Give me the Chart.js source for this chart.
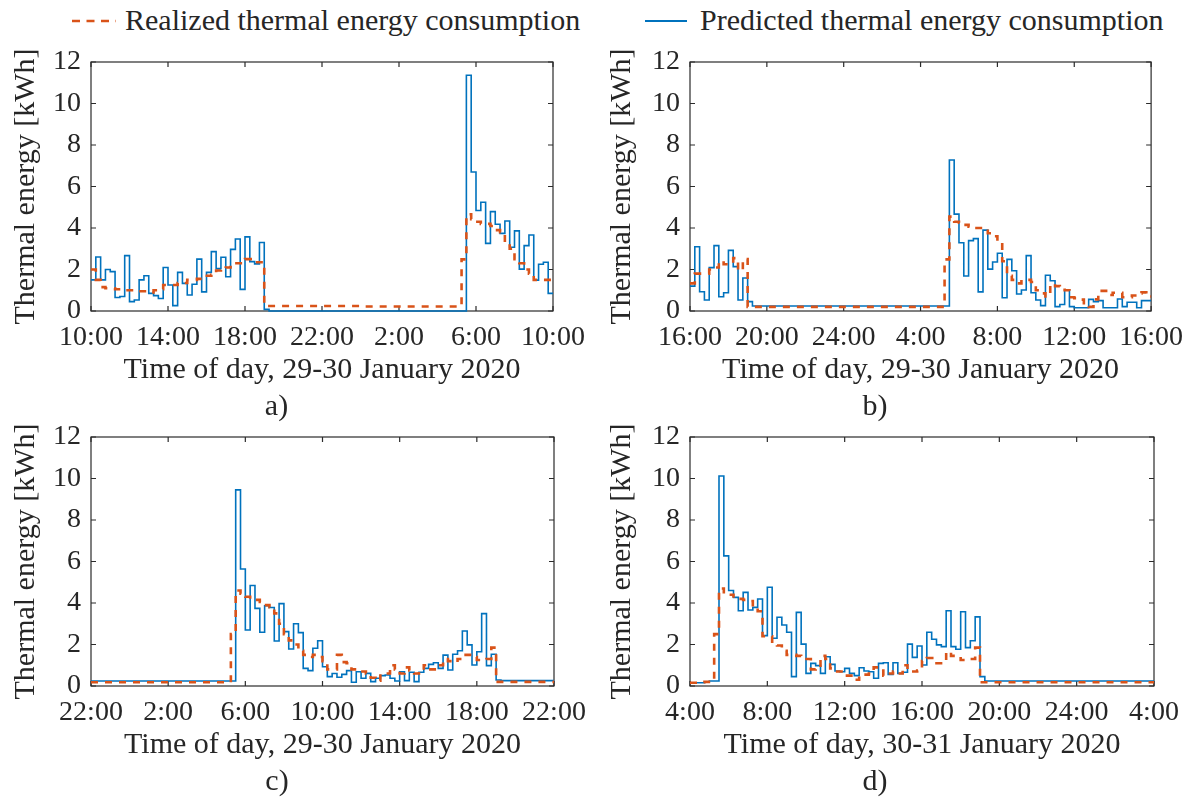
<!DOCTYPE html>
<html>
<head>
<meta charset="utf-8">
<script src="https://cdn.jsdelivr.net/npm/chart.js@4.4.1/dist/chart.umd.min.js"></script>
<style>
  html, body { margin: 0; padding: 0; background: #ffffff; }
  #page { position: relative; width: 1193px; height: 800px; overflow: hidden; background: #ffffff; }
  canvas { position: absolute; }
  .legtext { position: absolute; top: 0; height: 40px; line-height: 40px; font-family: 'Liberation Serif', serif; font-size: 30px; color: #262626; white-space: nowrap; }
  .legline { position: absolute; }
</style>
</head>
<body>
<div id="page">
  <svg class="legline" style="left:72px; top:18px" width="44" height="6"><line x1="0" y1="3" x2="44" y2="3" stroke="#D95319" stroke-width="2.6" stroke-dasharray="8 6.5"/></svg>
  <div class="legtext" style="left:125px">Realized thermal energy consumption</div>
  <svg class="legline" style="left:645px; top:18px" width="42" height="6"><line x1="0" y1="3" x2="42" y2="3" stroke="#0072BD" stroke-width="1.8"/></svg>
  <div class="legtext" style="left:700px">Predicted thermal energy consumption</div>
  <canvas id="ca"></canvas>
  <canvas id="cb"></canvas>
  <canvas id="cc"></canvas>
  <canvas id="cd"></canvas>
</div>
<script>
// ---------------- data (15-minute slots, 96 per panel) ----------------
const SLOT_HOURS = 0.25;
const seriesNames = ['Realized thermal energy consumption', 'Predicted thermal energy consumption'];

const tickLabelsA = ['10:00', '14:00', '18:00', '22:00', '2:00', '6:00', '10:00'];
const tickLabelsB = ['16:00', '20:00', '24:00', '4:00', '8:00', '12:00', '16:00'];
const tickLabelsC = ['22:00', '2:00', '6:00', '10:00', '14:00', '18:00', '22:00'];
const tickLabelsD = ['4:00', '8:00', '12:00', '16:00', '20:00', '24:00', '4:00'];
const yTickValues = [0, 2, 4, 6, 8, 10, 12];

const xTitleA = 'Time of day, 29-30 January 2020';
const xTitleB = 'Time of day, 29-30 January 2020';
const xTitleC = 'Time of day, 29-30 January 2020';
const xTitleD = 'Time of day, 30-31 January 2020';
const yTitle = 'Thermal energy [kWh]';
const captions = ['a)', 'b)', 'c)', 'd)'];

const realizedA = [
  2.0, 1.5, 1.15, 1.1, 1.1, 1.05, 1.05, 1.0,
  1.0, 1.0, 0.95, 0.95, 0.9, 1.0, 1.05, 1.25,
  1.25, 1.25, 1.35, 1.35, 1.5, 1.5, 1.55, 1.7,
  1.7, 1.75, 1.95, 2.0, 2.1, 2.3, 2.3, 2.3,
  2.5, 2.5, 2.35, 2.35, 0.24, 0.24, 0.24, 0.24,
  0.24, 0.24, 0.24, 0.24, 0.24, 0.24, 0.24, 0.24,
  0.24, 0.24, 0.24, 0.24, 0.24, 0.24, 0.24, 0.24,
  0.24, 0.22, 0.22, 0.22, 0.22, 0.22, 0.22, 0.22,
  0.22, 0.22, 0.22, 0.22, 0.22, 0.22, 0.22, 0.22,
  0.22, 0.22, 0.22, 0.22, 0.22, 2.49, 4.66, 4.43,
  4.3, 4.2, 4.2, 4.1, 3.9, 3.8, 3.3, 3.0,
  2.5, 2.3, 2.0, 1.8, 1.5, 1.5, 1.5, 1.5
];
const predictedA = [
  1.5, 2.6, 1.5, 2.0, 1.9, 0.65, 0.7, 2.67,
  0.45, 0.53, 1.5, 1.7, 0.85, 0.74, 0.6, 2.1,
  1.25, 0.26, 1.86, 1.33, 0.77, 1.29, 2.5, 0.92,
  1.86, 2.86, 2.04, 2.59, 1.65, 2.97, 3.47, 1.04,
  3.57, 2.38, 2.27, 3.3, 0.08, 0, 0, 0,
  0, 0, 0, 0, 0, 0, 0, 0,
  0, 0, 0, 0, 0, 0, 0, 0,
  0, 0, 0, 0, 0, 0, 0, 0,
  0, 0, 0, 0, 0, 0, 0, 0,
  0, 0, 0, 0, 0, 0, 11.36, 6.7,
  4.84, 5.24, 3.26, 4.79, 4.18, 3.74, 4.34, 3.07,
  3.86, 2.02, 3.15, 3.66, 1.49, 2.25, 2.35, 0.85
];

const realizedB = [
  1.33, 1.8, 1.8, 1.8, 2.0, 2.1, 2.4, 2.25,
  2.25, 2.55, 1.95, 2.5, 0.2, 0.2, 0.2, 0.2,
  0.2, 0.2, 0.2, 0.2, 0.2, 0.2, 0.2, 0.2,
  0.2, 0.2, 0.2, 0.2, 0.2, 0.2, 0.2, 0.2,
  0.2, 0.2, 0.2, 0.2, 0.2, 0.2, 0.2, 0.2,
  0.2, 0.2, 0.2, 0.2, 0.2, 0.2, 0.2, 0.2,
  0.2, 0.2, 0.2, 0.2, 0.2, 2.49, 4.55, 4.3,
  4.25, 4.15, 4.06, 4.0, 4.0, 3.95, 3.75, 3.6,
  3.3, 2.4, 1.7, 1.5, 1.33, 1.5, 1.5, 1.4,
  1.0, 0.85, 0.7, 1.3, 1.2, 1.15, 1.0, 0.66,
  0.62, 0.55, 0.3, 0.2, 0.56, 0.97, 0.97, 0.77,
  0.88, 0.88, 0.66, 0.66, 0.75, 0.85, 0.9, 0.7
];
const predictedB = [
  1.2, 3.1, 0.93, 0.53, 2.09, 3.15, 0.69, 0.88,
  2.92, 2.14, 0.53, 1.59, 0.45, 0.24, 0.24, 0.24,
  0.24, 0.24, 0.24, 0.24, 0.24, 0.24, 0.24, 0.24,
  0.24, 0.24, 0.24, 0.24, 0.24, 0.24, 0.24, 0.24,
  0.24, 0.24, 0.24, 0.24, 0.24, 0.24, 0.24, 0.24,
  0.24, 0.24, 0.24, 0.24, 0.24, 0.24, 0.24, 0.24,
  0.24, 0.24, 0.24, 0.24, 0.24, 0.24, 7.28, 4.67,
  3.29, 1.69, 3.39, 3.49, 0.92, 3.9, 2.02, 2.36,
  2.78, 0.64, 2.49, 1.94, 0.82, 1.01, 2.67, 0.88,
  0.53, 0.26, 1.72, 1.46, 0.21, 0.31, 1.01, 0.21,
  0.16, 0.16, 0.16, 0.56, 0.45, 0.5, 0.16, 0.16,
  0.16, 0.58, 0.21, 0.42, 0.42, 0.16, 0.5, 0.5
];

const realizedC = [
  0.18, 0.18, 0.18, 0.18, 0.18, 0.18, 0.18, 0.18,
  0.18, 0.18, 0.18, 0.18, 0.18, 0.18, 0.18, 0.18,
  0.18, 0.18, 0.18, 0.18, 0.18, 0.18, 0.18, 0.18,
  0.18, 0.18, 0.18, 0.18, 0.18, 2.5, 4.6, 4.45,
  4.3, 4.2, 4.15, 4.05, 3.9, 3.8, 3.5, 3.0,
  2.5, 2.2, 2.0, 1.7, 1.5, 1.4, 1.5, 1.4,
  1.2, 0.8, 0.8, 1.5, 1.15, 1.1, 0.8, 0.7,
  0.7, 0.6, 0.4, 0.25, 0.5, 0.6, 1.0, 0.8,
  0.6, 0.9, 0.75, 0.6, 0.7, 1.0, 0.8, 0.8,
  1.0, 1.3, 1.2, 1.15, 1.3, 1.5, 1.5, 1.4,
  1.25, 1.25, 1.3, 1.85, 0.2, 0.2, 0.2, 0.2,
  0.2, 0.2, 0.2, 0.2, 0.2, 0.2, 0.2, 0.2
];
const predictedC = [
  0.24, 0.24, 0.24, 0.24, 0.24, 0.24, 0.24, 0.24,
  0.24, 0.24, 0.24, 0.24, 0.24, 0.24, 0.24, 0.24,
  0.24, 0.24, 0.24, 0.24, 0.24, 0.24, 0.24, 0.24,
  0.24, 0.24, 0.24, 0.24, 0.24, 0.24, 9.45, 5.64,
  2.7, 4.84, 3.74, 2.59, 3.87, 3.78, 2.17, 3.97,
  2.62, 1.78, 3.0, 2.57, 0.85, 0.74, 1.82, 2.18,
  0.93, 0.45, 0.6, 0.42, 0.56, 0.74, 0.18, 0.69,
  0.37, 0.61, 0.21, 0.37, 0.5, 0.53, 0.37, 0.24,
  0.69, 0.26, 0.66, 0.21, 0.66, 0.85, 1.04, 1.12,
  0.85, 1.49, 0.77, 1.53, 1.7, 2.65, 1.98, 1.01,
  1.65, 3.49, 0.98, 1.53, 0.29, 0.26, 0.26, 0.26,
  0.26, 0.26, 0.26, 0.26, 0.26, 0.26, 0.26, 0.26
];

const realizedD = [
  0.16, 0.16, 0.18, 0.2, 0.2, 2.5, 4.7, 4.45,
  4.4, 4.25, 4.2, 4.15, 4.1, 3.8, 3.6, 2.4,
  2.4, 2.05, 1.95, 1.7, 1.5, 1.5, 1.45, 1.3,
  1.3, 0.8, 0.9, 1.45, 1.3, 0.85, 0.7, 0.7,
  0.5, 0.5, 0.3, 0.5, 0.55, 0.6, 0.9, 0.75,
  0.5, 0.6, 0.7, 0.6, 1.0, 0.7, 0.7, 0.75,
  1.2, 1.35, 1.35, 1.1, 1.1, 1.65, 1.45, 1.45,
  1.25, 1.25, 1.3, 1.85, 0.18, 0.18, 0.18, 0.18,
  0.18, 0.18, 0.18, 0.18, 0.18, 0.18, 0.18, 0.18,
  0.18, 0.18, 0.18, 0.18, 0.18, 0.18, 0.18, 0.18,
  0.18, 0.18, 0.18, 0.18, 0.18, 0.18, 0.18, 0.18,
  0.18, 0.18, 0.18, 0.18, 0.18, 0.18, 0.18, 0.18
];
const predictedD = [
  0.16, 0.16, 0.16, 0.2, 0.24, 0.24, 10.12, 6.27,
  4.6, 4.27, 3.63, 4.51, 3.66, 3.79, 4.19, 2.43,
  4.76, 2.3, 3.31, 2.94, 2.59, 0.45, 3.55, 2.02,
  0.61, 1.09, 0.98, 0.61, 1.41, 1.04, 0.72, 0.69,
  0.85, 0.61, 0.5, 0.88, 0.72, 0.69, 0.37, 1.09,
  1.12, 0.56, 1.12, 0.61, 0.66, 2.02, 1.38, 1.93,
  1.01, 2.59, 2.25, 1.98, 1.9, 3.63, 1.9, 1.77,
  3.58, 1.85, 2.18, 3.33, 0.45, 0.24, 0.24, 0.24,
  0.24, 0.24, 0.24, 0.24, 0.24, 0.24, 0.24, 0.24,
  0.24, 0.24, 0.24, 0.24, 0.24, 0.24, 0.24, 0.24,
  0.24, 0.24, 0.24, 0.24, 0.24, 0.24, 0.24, 0.24,
  0.24, 0.24, 0.24, 0.24, 0.24, 0.24, 0.24, 0.24
];

// ---------------- styling ----------------
const FONT_FAMILY = "'Liberation Serif', 'Times New Roman', serif";
const TICK_FONT_SIZE = 28;
const TITLE_FONT_SIZE = 30;
const TITLE_LINE = 1.1;
const TEXT_COLOR = '#262626';
const AXIS_COLOR = '#2b2b2b';
const RED = '#D95319';
const BLUE = '#0072BD';
const TICK_LEN = 5;

Chart.defaults.font.family = FONT_FAMILY;
Chart.defaults.color = TEXT_COLOR;

function toPoints(values) {
  const pts = values.map((v, i) => ({ x: i * SLOT_HOURS, y: v }));
  pts.push({ x: values.length * SLOT_HOURS, y: values[values.length - 1] });
  return pts;
}

const framePlugin = {
  id: 'matlabFrame',
  beforeDatasetsDraw(chart) {
    const { ctx, chartArea: a } = chart;
    const xs = chart.scales.x, ys = chart.scales.y;
    ctx.save();
    ctx.strokeStyle = AXIS_COLOR;
    ctx.lineWidth = 1.2;
    ctx.beginPath();
    xs.ticks.forEach(t => {
      const px = xs.getPixelForValue(t.value);
      ctx.moveTo(px, a.bottom); ctx.lineTo(px, a.bottom - TICK_LEN);
      ctx.moveTo(px, a.top); ctx.lineTo(px, a.top + TICK_LEN);
    });
    ys.ticks.forEach(t => {
      const py = ys.getPixelForValue(t.value);
      ctx.moveTo(a.left, py); ctx.lineTo(a.left + TICK_LEN, py);
      ctx.moveTo(a.right, py); ctx.lineTo(a.right - TICK_LEN, py);
    });
    ctx.stroke();
    ctx.strokeRect(a.left, a.top, a.right - a.left, a.bottom - a.top);
    ctx.restore();
  }
};

function makePanel(canvasId, box, tickLabels, xTitle, caption, realized, predicted) {
  const cv = document.getElementById(canvasId);
  cv.width = box.w; cv.height = box.h;
  cv.style.left = box.left + 'px';
  cv.style.top = box.top + 'px';
  cv.style.width = box.w + 'px';
  cv.style.height = box.h + 'px';
  const l = box.areaLeft - box.left;
  const t = box.areaTop - box.top;
  const r = box.areaRight - box.left;
  const b = box.areaBottom - box.top;
  const xAxisH = 80;
  const capH = TITLE_FONT_SIZE * TITLE_LINE;
  const tickFont = { family: FONT_FAMILY, size: TICK_FONT_SIZE, lineHeight: 1.2, weight: 'normal' };
  const titleFont = { family: FONT_FAMILY, size: TITLE_FONT_SIZE, lineHeight: TITLE_LINE, weight: 'normal' };
  new Chart(cv, {
    type: 'line',
    data: {
      datasets: [
        { label: seriesNames[0], data: toPoints(realized), stepped: true, borderColor: RED, borderWidth: 2.6,
          borderDash: [7, 7], pointRadius: 0, fill: false, clip: false },
        { label: seriesNames[1], data: toPoints(predicted), stepped: true, borderColor: BLUE, borderWidth: 1.6,
          pointRadius: 0, fill: false, clip: false }
      ]
    },
    options: {
      responsive: false,
      animation: false,
      devicePixelRatio: 1,
      layout: { padding: { left: 0, top: t, right: box.w - r, bottom: Math.max(0, box.h - b - xAxisH - capH) } },
      plugins: {
        legend: { display: false },
        tooltip: { enabled: false },
        title: { display: true, text: caption, position: 'bottom', font: titleFont, color: TEXT_COLOR,
                 padding: { top: 0, bottom: 0 } }
      },
      scales: {
        x: {
          type: 'linear', min: 0, max: 24,
          grid: { display: false, drawTicks: false },
          border: { display: false },
          ticks: { stepSize: 4, autoSkip: false, maxRotation: 0, padding: 10, font: tickFont, color: TEXT_COLOR,
                   callback: (v) => tickLabels[Math.round(v / 4)] },
          title: { display: true, text: xTitle, font: titleFont, color: TEXT_COLOR, padding: { top: 0, bottom: 4 } },
          afterFit: (s) => { s.height = xAxisH; }
        },
        y: {
          type: 'linear', min: yTickValues[0], max: yTickValues[yTickValues.length - 1],
          grid: { display: false, drawTicks: false },
          border: { display: false },
          ticks: { stepSize: 2, padding: 10, font: tickFont, color: TEXT_COLOR },
          title: { display: true, text: yTitle, font: titleFont, color: TEXT_COLOR, padding: { top: 10, bottom: 0 } },
          afterFit: (s) => { s.width = l; }
        }
      }
    },
    plugins: [framePlugin]
  });
}

makePanel('ca', { left: 0, top: 30, w: 596, h: 400, areaLeft: 91, areaTop: 62, areaRight: 553, areaBottom: 311 },
  tickLabelsA, xTitleA, captions[0], realizedA, predictedA);
makePanel('cb', { left: 596, top: 30, w: 597, h: 400, areaLeft: 690, areaTop: 62, areaRight: 1154, areaBottom: 311 },
  tickLabelsB, xTitleB, captions[1], realizedB, predictedB);
makePanel('cc', { left: 0, top: 400, w: 596, h: 400, areaLeft: 91, areaTop: 437, areaRight: 554, areaBottom: 686 },
  tickLabelsC, xTitleC, captions[2], realizedC, predictedC);
makePanel('cd', { left: 596, top: 400, w: 597, h: 400, areaLeft: 690, areaTop: 437, areaRight: 1154, areaBottom: 686 },
  tickLabelsD, xTitleD, captions[3], realizedD, predictedD);
</script>
</body>
</html>
